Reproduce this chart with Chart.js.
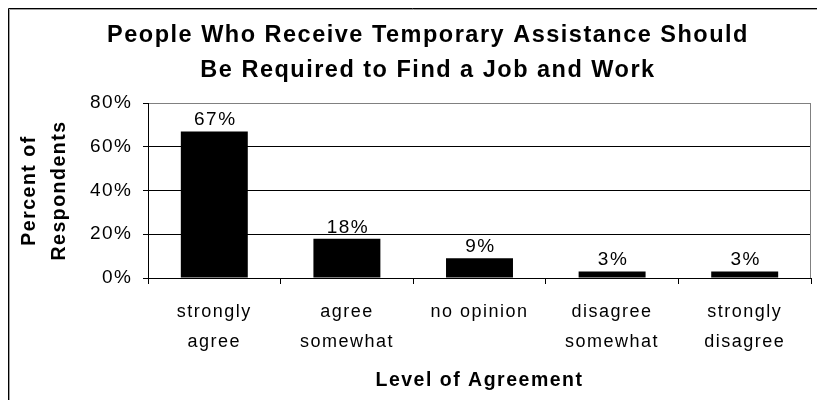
<!DOCTYPE html>
<html>
<head>
<meta charset="utf-8">
<title>Temporary Assistance - Level of Agreement</title>
<script src="https://cdn.jsdelivr.net/npm/chart.js@4.4.1/dist/chart.umd.min.js"></script>
<style>
  html, body { margin: 0; padding: 0; background: #fff; }
  #wrap { width: 817px; height: 400px; }
</style>
</head>
<body>
<div id="wrap"><canvas id="chart" width="817" height="400"></canvas></div>
<script>
// data
const categories = [['strongly', 'agree'], ['agree', 'somewhat'], 'no opinion', ['disagree', 'somewhat'], ['strongly', 'disagree']];
const percents = [67, 18, 9, 3, 3];
const yTicks = [0, 20, 40, 60, 80];
const titleLines = ['People Who Receive Temporary Assistance Should', 'Be Required to Find a Job and Work'];
const xTitle = 'Level of Agreement';
const yTitle = ['Percent of', 'Respondents'];

const FONT = "'Liberation Sans', Arial, sans-serif";
const LETTER_SPACING = '1.5px';

// the old office-style chart has loose letter spacing on every text
const spacing = {
    id: 'spacing',
    beforeUpdate(chart) { chart.ctx.letterSpacing = LETTER_SPACING; },
    beforeDraw(chart) { chart.ctx.letterSpacing = LETTER_SPACING; }
};

// outer frame (only left + top are visible in the picture)
const frame = {
    id: 'frame',
    beforeDraw(chart) {
        const ctx = chart.ctx;
        ctx.save();
        ctx.fillStyle = '#fff';
        ctx.fillRect(0, 0, chart.width, chart.height);
        ctx.lineWidth = 1;
        ctx.strokeStyle = '#000';
        ctx.beginPath();
        ctx.moveTo(8.5, chart.height); ctx.lineTo(8.5, 8.5); ctx.lineTo(chart.width, 8.5);
        ctx.stroke();
        ctx.strokeStyle = '#a0a0a0';
        ctx.beginPath();
        ctx.moveTo(9.5, chart.height); ctx.lineTo(9.5, 9.5); ctx.lineTo(chart.width, 9.5);
        ctx.stroke();
        ctx.restore();
    },
    afterDraw(chart) {
        // grey right edge of the plot area
        const { top, bottom, right } = chart.chartArea;
        const ctx = chart.ctx;
        ctx.save();
        ctx.strokeStyle = '#808080';
        ctx.lineWidth = 1;
        ctx.beginPath();
        ctx.moveTo(Math.round(right) - 0.5, top);
        ctx.lineTo(Math.round(right) - 0.5, bottom);
        ctx.stroke();
        ctx.restore();
    }
};

// title is centred on the (cut off) frame, not on the canvas
const titleShift = {
    id: 'titleShift',
    afterLayout(chart) {
        const t = chart.titleBlock;
        if (!t) return;
        t.left = 45;
        t.width = t.right - t.left;
    }
};

// value labels above the bars
const barLabels = {
    id: 'barLabels',
    afterDatasetsDraw(chart) {
        const ctx = chart.ctx;
        ctx.save();
        ctx.font = `19px ${FONT}`;
        ctx.fillStyle = '#000';
        ctx.textAlign = 'center';
        ctx.textBaseline = 'alphabetic';
        chart.getDatasetMeta(0).data.forEach((bar, i) => {
            ctx.fillText(percents[i] + '%', bar.x + 1, bar.y - 6);
        });
        ctx.restore();
    }
};

new Chart(document.getElementById('chart'), {
    type: 'bar',
    data: {
        labels: categories,
        datasets: [{
            data: percents,
            backgroundColor: '#000',
            borderWidth: 0,
            barPercentage: 0.505,
            categoryPercentage: 1
        }]
    },
    options: {
        responsive: false,
        animation: false,
        layout: { padding: { left: 0, right: 6, top: 0, bottom: 0 } },
        plugins: {
            legend: { display: false },
            tooltip: { enabled: false },
            title: {
                display: true,
                text: titleLines,
                color: '#000',
                font: { family: FONT, size: 23.5, weight: 'bold', lineHeight: 1.49 },
                padding: { top: 18, bottom: 15 }
            }
        },
        scales: {
            x: {
                afterFit: s => { s.height = 122; },
                grid: { display: true, drawOnChartArea: false, drawTicks: true, tickLength: 6, tickColor: '#000', offset: true },
                border: { color: '#000', width: 1 },
                ticks: { color: '#000', font: { family: FONT, size: 18, lineHeight: 1.667 }, padding: 13, maxRotation: 0, autoSkip: false },
                title: {
                    display: true,
                    text: xTitle,
                    color: '#000',
                    font: { family: FONT, size: 19.5, weight: 'bold', lineHeight: 1.2 },
                    padding: { top: 12, bottom: 8 }
                }
            },
            y: {
                min: 0,
                max: 80,
                afterBuildTicks: s => { s.ticks = yTicks.map(v => ({ value: v })); },
                afterFit: s => { s.width = 148; },
                grid: {
                    color: c => (c.tick && c.tick.value === 80 ? '#808080' : '#000'),
                    tickColor: '#000',
                    tickLength: 5
                },
                border: { color: '#000' },
                ticks: { color: '#000', font: { family: FONT, size: 19 }, padding: 10.5, callback: v => v + '%' },
                title: {
                    display: true,
                    text: yTitle,
                    color: '#000',
                    font: { family: FONT, size: 19.5, weight: 'bold', lineHeight: 1.54 },
                    padding: { top: 15, bottom: 0 }
                }
            }
        }
    },
    plugins: [spacing, frame, titleShift, barLabels]
});
</script>
</body>
</html>
